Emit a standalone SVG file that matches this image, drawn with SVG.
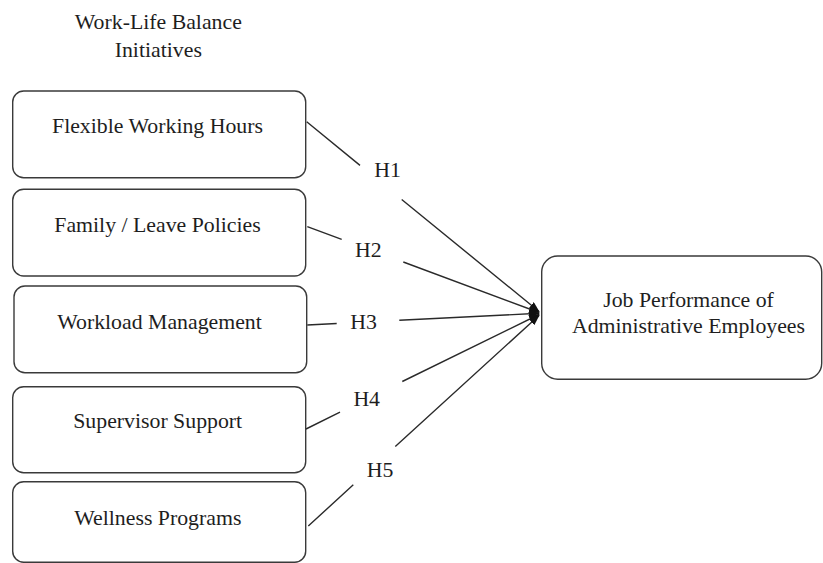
<svg xmlns="http://www.w3.org/2000/svg" width="823" height="563" viewBox="0 0 823 563">
  <style>
    .box { fill: #ffffff; stroke: #3a3a3a; stroke-width: 1.4; }
    text { font-family: 'Liberation Serif', 'Tinos', 'DejaVu Serif', serif; font-size: 21.8px; fill: #1e1e1e; text-anchor: middle; }
    .link { fill: none; stroke: #2a2a2a; stroke-width: 1.4; marker-end: url(#arrow); }
  </style>
  <defs>
    <marker id="arrow" markerWidth="11" markerHeight="8" refX="10" refY="4" orient="auto" markerUnits="userSpaceOnUse">
      <path d="M0,0 L11,4 L0,8 Z" fill="#111111"/>
    </marker>
  </defs>

  <rect width="823" height="563" fill="#ffffff"/>

  <!-- Heading over the left column -->
  <g id="heading" font-family="Liberation Serif, serif">
    <text x="158.3" y="29.3" font-size="21.4">Work-Life Balance</text>
    <text x="158.3" y="56.7" font-size="21.4">Initiatives</text>
  </g>

  <!-- Independent variables -->
  <g id="flexible-hours">
    <rect class="box" x="12.7" y="91" width="293" height="86.7" rx="11"/>
    <text x="157.5" y="133.3">Flexible Working Hours</text>
  </g>
  <g id="family-leave">
    <rect class="box" x="12.7" y="189.3" width="293" height="86.7" rx="11"/>
    <text x="157.5" y="231.7">Family / Leave Policies</text>
  </g>
  <g id="workload">
    <rect class="box" x="14" y="286" width="292.7" height="86.7" rx="11"/>
    <text x="159.5" y="329.3">Workload Management</text>
  </g>
  <g id="supervisor">
    <rect class="box" x="12.7" y="386.7" width="293" height="86" rx="11"/>
    <text x="157.7" y="428.3">Supervisor Support</text>
  </g>
  <g id="wellness">
    <rect class="box" x="12.7" y="481.7" width="293" height="80.5" rx="11"/>
    <text x="157.8" y="525">Wellness Programs</text>
  </g>

  <!-- Dependent variable -->
  <g id="job-performance">
    <rect class="box" x="541.7" y="256" width="280" height="123.3" rx="16"/>
    <text x="688.5" y="307">Job Performance of</text>
    <text x="688.5" y="332.7">Administrative Employees</text>
  </g>

  <!-- Hypothesis connectors (broken around their labels) -->
  <g id="connectors">
    <path class="link" d="M306.7,121.7 L360,165.4 M401.7,199.5 L539,311.5"/>
    <path class="link" d="M307.3,226.7 L341.7,239.4 M403.3,262 L539,312.5"/>
    <path class="link" d="M307.3,325 L336.7,323.5 M399.3,320.2 L539,313.3"/>
    <path class="link" d="M306,429 L340,412.2 M402.3,381.5 L539,314.5"/>
    <path class="link" d="M308.3,526 L353.3,484.8 M395.3,446.4 L539,315.5"/>
  </g>

  <!-- Hypothesis labels -->
  <g id="hypotheses">
    <text x="387.5" y="176.8">H1</text>
    <text x="368.3" y="257.3">H2</text>
    <text x="363.5" y="329.3">H3</text>
    <text x="366.7" y="406">H4</text>
    <text x="380" y="476.7">H5</text>
  </g>
</svg>
